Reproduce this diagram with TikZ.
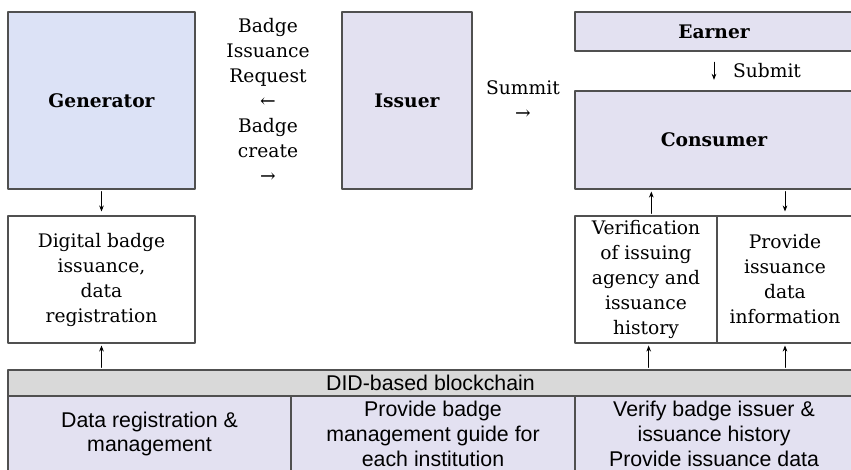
\documentclass[tikz,border=0pt]{standalone}
\usepackage{fontspec}
\setmainfont{DejaVu Serif}
\newfontfamily\didfont{Liberation Sans}
\usetikzlibrary{arrows.meta}
\definecolor{Gfill}{RGB}{220,226,246}
\definecolor{Lfill}{RGB}{227,225,241}
\definecolor{Dfill}{RGB}{217,217,217}
\definecolor{Edge}{RGB}{80,80,80}

\begin{document}
\begin{tikzpicture}[x=0.75pt,y=-0.75pt,line cap=round,line join=round,
  box/.style 2 args={draw=Edge,line width=0.8pt,minimum width=#1*0.75pt,minimum height=#2*0.75pt,
    inner sep=0pt,align=center,font=\fontsize{14}{18.75}\selectfont},
  role/.style={font=\bfseries\fontsize{14}{16}\selectfont},
  chain/.style={font=\didfont\fontsize{16}{18.5}\selectfont},
  txt/.style={align=center,inner sep=0pt,font=\fontsize{14}{18.75}\selectfont},
  arr/.style={-{Stealth[length=4.5pt,width=3.5pt]},line width=0.6pt}]
\path[use as bounding box] (0,0) rectangle (851,470);
% actors
\node[box={187}{177},role,fill=Gfill] (gen) at (101.5,100.5) {Generator};
\node[box={130}{177},role,fill=Lfill] (iss) at (407,100.5) {Issuer};
\node[box={278}{39},role,fill=Lfill] (earn) at (714,31.5) {Earner};
\node[box={278}{98},role,fill=Lfill] (cons) at (714,140) {Consumer};
% messages
\node[txt] (req) at (268,100) {Badge\\Issuance\\Request\\←\\Badge\\create\\→};
\node[txt] (sum) at (523,100) {Summit\\→};
% functions
\node[box={187}{127}] (dig) at (101.5,279.5) {Digital badge\\issuance,\\data\\registration};
\node[box={142}{127}] (ver) at (646,279.5) {Verification\\of issuing\\agency and\\issuance\\history};
\node[box={136}{127}] (prov) at (785,279.5) {Provide\\issuance\\data\\information};
% blockchain
\node[box={845}{26},chain,fill=Dfill] (did) at (430.5,383) {DID-based blockchain};
\node[box={283}{76},chain,fill=Lfill] (cellA) at (149.5,434) {Data registration \&\\management};
\node[box={284}{76},chain,fill=Lfill] (cellB) at (433,434) {Provide badge\\management guide for\\each institution};
\node[box={278}{76},chain,fill=Lfill] (cellC) at (714,434) {Verify badge issuer \&\\issuance history\\Provide issuance data};
% arrows
\draw[arr,shorten <=1.5pt,shorten >=3pt] (gen) -- (dig);
\draw[arr,shorten <=1.5pt,shorten >=1.5pt] (did.north -| dig.south) -- (dig.south);
\draw[arr,shorten <=8pt,shorten >=8pt] (earn) -- (cons)
  node[midway,right=14pt,txt] (sub) {Submit};
\draw[arr,shorten <=1.5pt,shorten >=1.5pt] ([xshift=4pt]ver.north) -- ([xshift=4pt]ver.north |- cons.south);
\draw[arr,shorten <=1.5pt,shorten >=3pt] (prov.north |- cons.south) -- (prov.north);
\draw[arr,shorten <=1.5pt,shorten >=1.5pt] ([xshift=2pt]ver.south |- did.north) -- ([xshift=2pt]ver.south);
\draw[arr,shorten <=1.5pt,shorten >=1.5pt] (prov.south |- did.north) -- (prov.south);
\end{tikzpicture}
\end{document}
